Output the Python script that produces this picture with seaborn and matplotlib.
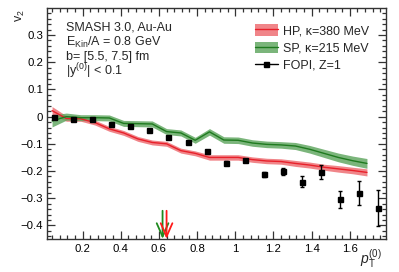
import numpy as np
import pandas as pd
import matplotlib
matplotlib.use("Agg")
import matplotlib.pyplot as plt
import seaborn as sns
from matplotlib.patches import Patch
from matplotlib.lines import Line2D
from matplotlib.ticker import MultipleLocator

# ==================== data ====================
model_pt = [0.04, 0.115, 0.19, 0.265, 0.34, 0.415, 0.49, 0.565, 0.64, 0.715, 0.79, 0.865,
            0.94, 1.015, 1.09, 1.165, 1.24, 1.315, 1.39, 1.465, 1.54, 1.615, 1.69]

hp_v2 = [0.022, -0.007, -0.008, -0.022, -0.045, -0.060, -0.082, -0.095, -0.100, -0.125, -0.135, -0.150,
         -0.150, -0.150, -0.158, -0.163, -0.165, -0.172, -0.178, -0.186, -0.192, -0.198, -0.205]
hp_err = [0.015, 0.010, 0.009, 0.009, 0.009, 0.009, 0.009, 0.009, 0.009, 0.009, 0.009, 0.010,
          0.010, 0.010, 0.010, 0.010, 0.010, 0.011, 0.011, 0.011, 0.012, 0.012, 0.013]

sp_v2 = [-0.016, 0.0, -0.004, -0.004, -0.005, -0.025, -0.026, -0.027, -0.055, -0.060, -0.087, -0.056,
         -0.086, -0.087, -0.097, -0.102, -0.104, -0.108, -0.120, -0.135, -0.150, -0.162, -0.172]
sp_err = [0.022, 0.013, 0.011, 0.011, 0.011, 0.011, 0.011, 0.011, 0.011, 0.011, 0.011, 0.012,
          0.012, 0.012, 0.012, 0.012, 0.012, 0.013, 0.014, 0.015, 0.016, 0.017, 0.018]

fopi_pt = [0.05, 0.15, 0.25, 0.35, 0.45, 0.55, 0.65, 0.75, 0.85, 0.95, 1.05, 1.15, 1.25, 1.35,
           1.45, 1.55, 1.65, 1.75]
fopi_v2 = [0.0, -0.007, -0.007, -0.027, -0.036, -0.049, -0.075, -0.093, -0.126, -0.169, -0.161,
           -0.212, -0.201, -0.240, -0.203, -0.304, -0.280, -0.336]
fopi_err = [0.004, 0.003, 0.003, 0.003, 0.003, 0.003, 0.003, 0.003, 0.004, 0.005, 0.005,
            0.009, 0.013, 0.020, 0.025, 0.032, 0.043, 0.065]

arrow_sp = 0.619
arrow_hp = 0.640

RED_LINE = "#e8202a"
RED_BAND = "#ee7075"
GREEN_LINE = "#1f7a1f"
GREEN_BAND = "#5aa35a"

# ==================== style ====================
sns.set_theme(style="ticks")
plt.rcParams['font.family'] = ['Liberation Sans', 'DejaVu Sans']
plt.rcParams['mathtext.fontset'] = 'custom'
plt.rcParams['mathtext.rm'] = 'Liberation Sans'
plt.rcParams['mathtext.it'] = 'Liberation Sans:italic'
plt.rcParams['axes.unicode_minus'] = True

fig = plt.figure(figsize=(3.99, 2.72), dpi=100)
ax = fig.add_axes([0.1185, 0.120, 0.849, 0.8495])

df = pd.DataFrame({'pt': model_pt, 'hp': hp_v2, 'sp': sp_v2})

ax.fill_between(model_pt, np.array(hp_v2) - np.array(hp_err), np.array(hp_v2) + np.array(hp_err),
                color=RED_BAND, alpha=0.85, lw=0, zorder=1)
ax.fill_between(model_pt, np.array(sp_v2) - np.array(sp_err), np.array(sp_v2) + np.array(sp_err),
                color=GREEN_BAND, alpha=0.8, lw=0, zorder=2)
sns.lineplot(data=df, x='pt', y='hp', color=RED_LINE, lw=1.0, ax=ax, zorder=3)
sns.lineplot(data=df, x='pt', y='sp', color=GREEN_LINE, lw=1.0, ax=ax, zorder=4)

ax.errorbar(fopi_pt, fopi_v2, yerr=fopi_err, fmt='s', color='black', ms=3.6,
            elinewidth=1.0, capsize=1.5, capthick=1.0, zorder=5)

# arrows
ax.annotate('', xy=(arrow_sp, -0.449), xytext=(arrow_sp, -0.346),
            arrowprops=dict(arrowstyle='->,head_length=0.8,head_width=0.35', color='#1f8a1f',
                            lw=1.3, mutation_scale=12, shrinkA=0, shrinkB=0), zorder=6)
ax.annotate('', xy=(arrow_hp, -0.449), xytext=(arrow_hp, -0.346),
            arrowprops=dict(arrowstyle='->,head_length=0.8,head_width=0.35', color='#ff1a1a',
                            lw=1.3, mutation_scale=12, shrinkA=0, shrinkB=0), zorder=7)

ax.set_xlim(0.015, 1.79)
ax.set_ylim(-0.451, 0.398)
ax.xaxis.set_major_locator(MultipleLocator(0.2))
ax.xaxis.set_minor_locator(MultipleLocator(0.04))
ax.yaxis.set_major_locator(MultipleLocator(0.1))
ax.yaxis.set_minor_locator(MultipleLocator(0.02))
ax.set_xticks([0.2, 0.4, 0.6, 0.8, 1.0, 1.2, 1.4, 1.6])
ax.set_xticklabels(['0.2', '0.4', '0.6', '0.8', '1', '1.2', '1.4', '1.6'])
ax.set_yticks([-0.4, -0.3, -0.2, -0.1, 0.0, 0.1, 0.2, 0.3])
ax.set_yticklabels(['\u22120.4', '\u22120.3', '\u22120.2', '\u22120.1', '0', '0.1', '0.2', '0.3'])
ax.tick_params(which='both', direction='in', top=True, right=True, labelsize=8.2,
               color='#333333', labelcolor='black', width=0.9, pad=3)
ax.tick_params(which='major', length=6)
ax.tick_params(which='minor', length=3)
for s in ax.spines.values():
    s.set_linewidth(1.0)
    s.set_color('#333333')
ax.set_xlabel('')
ax.set_ylabel('')

fig.text(0.052, 0.965, 'v$_2$', rotation=90, ha='center', va='top', fontsize=9)
fig.text(0.93, 0.005, '$p_{\\rm T}^{(0)}$', ha='center', va='bottom', fontsize=10)

info = ['SMASH 3.0, Au-Au', 'E$_{\\rm Kin}$/A = 0.8 GeV', 'b= [5.5, 7.5] fm', '|y$^{(0)}$| < 0.1']
for i, t in enumerate(info):
    ax.text(0.055, 0.915 - i * 0.062, t, transform=ax.transAxes, fontsize=9, va='center', ha='left')

handles = [(Patch(facecolor=RED_BAND, edgecolor='none', alpha=0.85), Line2D([], [], color=RED_LINE, lw=1.0)),
           (Patch(facecolor=GREEN_BAND, edgecolor='none', alpha=0.8), Line2D([], [], color=GREEN_LINE, lw=1.0)),
           Line2D([], [], color='black', marker='s', ms=3.6, lw=1.0)]
labels = ['HP, \u03ba=380 MeV', 'SP, \u03ba=215 MeV', 'FOPI, Z=1']
ax.legend(handles, labels, loc='upper left', bbox_to_anchor=(0.588, 0.968), frameon=False,
          fontsize=9, handlelength=1.8, handleheight=1.0, labelspacing=0.35,
          handletextpad=0.4, borderpad=0.2)

fig.savefig('out.png', dpi=100)
